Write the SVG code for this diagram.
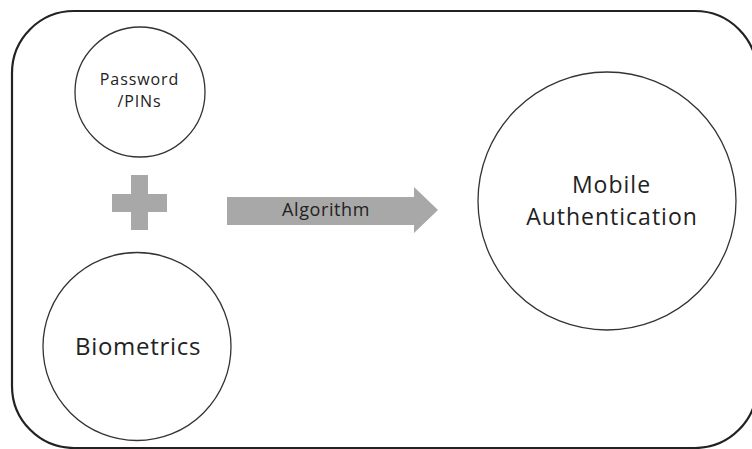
<svg xmlns="http://www.w3.org/2000/svg" width="752" height="449" viewBox="0 0 752 449">
<style>
.node{fill:#fff;stroke:#333;stroke-width:1.3}
.t{font-family:"Open Sans",Lato,"DejaVu Sans",sans-serif;fill:#222;text-anchor:middle}
.frame{fill:none;stroke:#222;stroke-width:2.2}
.grey{fill:#a8a8a8}
</style>
<rect class="frame" x="12" y="11" width="745" height="437" rx="62" ry="62"/>
<g id="password">
<circle class="node" cx="140" cy="92" r="65"/>
<text class="t" x="139.5" y="85" font-size="16" letter-spacing="0.9">Password</text>
<text class="t" x="139.5" y="107" font-size="16" letter-spacing="0.9">/PINs</text>
</g>
<g id="plus">
<path class="grey" d="M131 175H148V194H167V212H148V230H131V212H112V194H131Z"/>
</g>
<g id="biometrics">
<circle class="node" cx="137" cy="346.5" r="94"/>
<text class="t" x="138" y="355" font-size="24" letter-spacing="0.7">Biometrics</text>
</g>
<g id="mobile">
<circle class="node" cx="607" cy="201" r="129"/>
<text class="t" x="611.5" y="193" font-size="23" letter-spacing="1">Mobile</text>
<text class="t" x="612" y="225" font-size="23" letter-spacing="1">Authentication</text>
</g>
<g id="connectors">
<path class="grey" d="M227 197H414V187L438 210L414 233V225H227Z"/>
<text class="t" x="326" y="216" font-size="18" letter-spacing="0.6">Algorithm</text>
</g>
</svg>
